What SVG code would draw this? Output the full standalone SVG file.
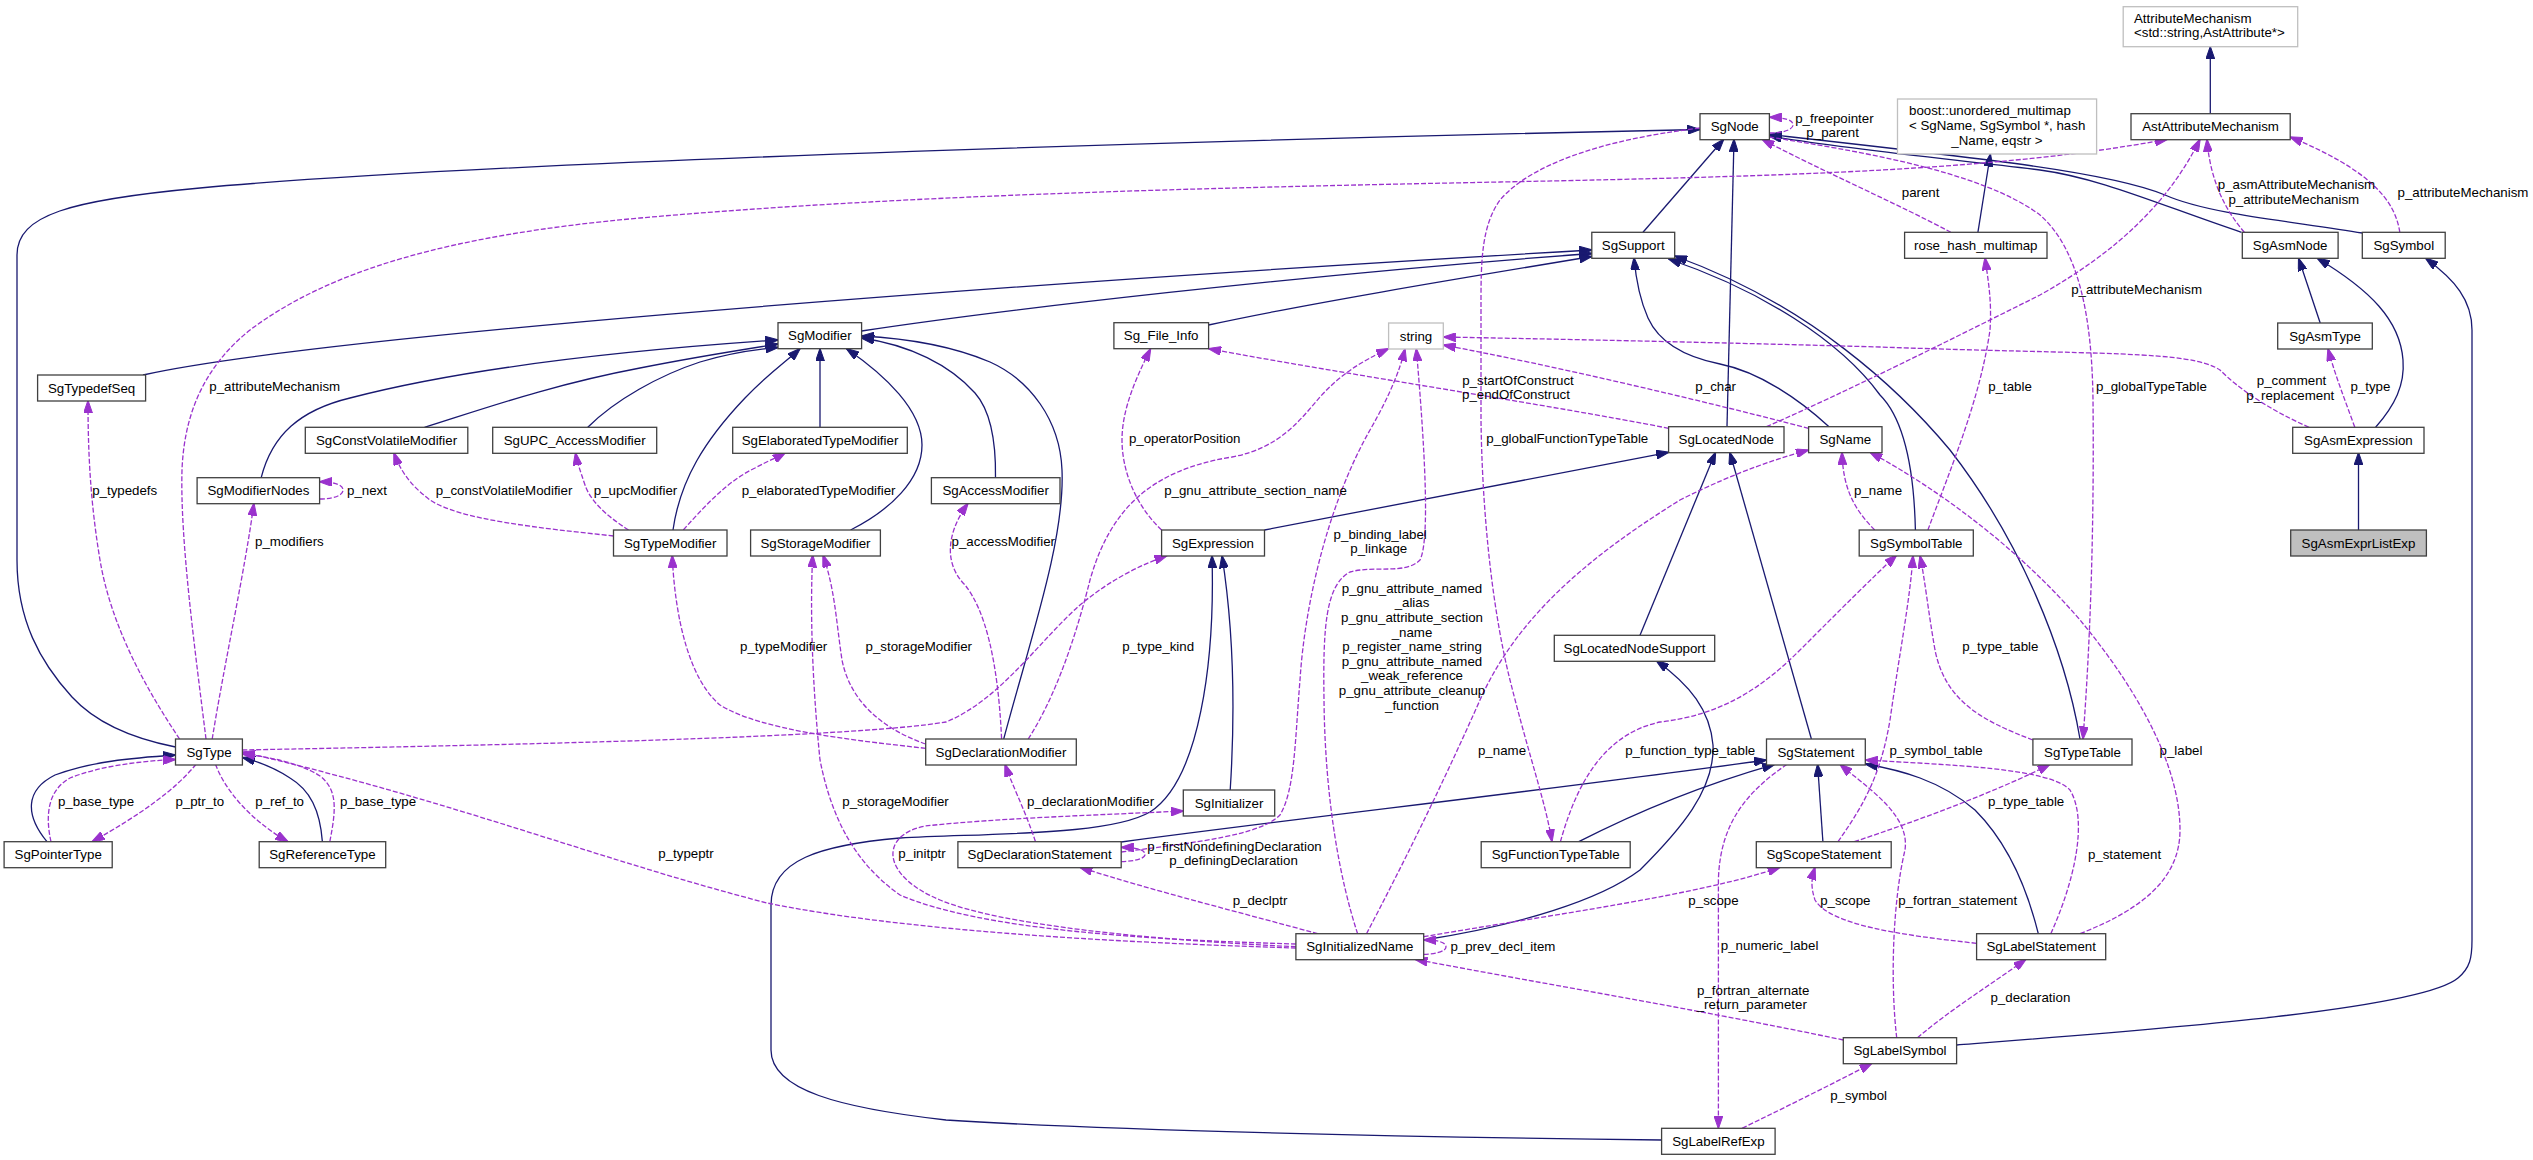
<svg xmlns="http://www.w3.org/2000/svg" width="2533" height="1160" viewBox="0 0 2533 1160">
<style>
text{font-family:"Liberation Sans",Arial,Helvetica,sans-serif;font-size:13.3px;fill:#000}
.n rect{fill:#fff;stroke:#404040;stroke-width:1.3}
.g rect{fill:#fff;stroke:#bfbfbf;stroke-width:1.3}
.f rect{fill:#bfbfbf}
.n text,.g text.c{text-anchor:middle}
.inh{fill:none;stroke:#191970;stroke-width:1.3;marker-end:url(#ah)}
.use{fill:none;stroke:#9a32cd;stroke-width:1.3;stroke-dasharray:5,2;marker-end:url(#ap)}
.lbl text{text-anchor:middle}
</style>
<defs>
<marker id="ah" viewBox="0 0 13 9" refX="12.5" refY="4.5" markerWidth="13" markerHeight="9" markerUnits="userSpaceOnUse" orient="auto"><path d="M0,0 L13,4.5 L0,9 z" fill="#191970" stroke="#191970" stroke-width="1"/></marker>
<marker id="ap" viewBox="0 0 13 9" refX="12.5" refY="4.5" markerWidth="13" markerHeight="9" markerUnits="userSpaceOnUse" orient="auto"><path d="M0,0 L13,4.5 L0,9 z" fill="#9a32cd" stroke="#9a32cd" stroke-width="1"/></marker>
</defs>
<rect width="2533" height="1160" fill="#fff"/>

<g id="connectors">
<path class="inh" d="M175.5,747 C130,738 95,722 72,697 C40,662 17,620 17,560 L17,255 C17,215 70,200 200,188 C500,160 1300,138 1700,129.5"/>
<path class="inh" d="M143,375 C300,340 900,290 1591.8,250"/>
<path class="inh" d="M861.6,331 C1000,310 1300,275 1591.8,253.5"/>
<path class="inh" d="M1208.6,325 C1300,305 1450,280 1591.8,256.5"/>
<path class="inh" d="M1643,232.3 L1723.7,139.3"/>
<path class="inh" d="M1727,426.7 L1734,139.3"/>
<path class="inh" d="M2241.5,232.3 C2160,205 2100,178 2040,170 C1960,160 1850,150 1769.4,136"/>
<path class="inh" d="M2362.3,233 C2300,222 2210,215 2165,195 C2110,172 1980,158 1769.4,134.5"/>
<path class="inh" d="M1977.9,232.3 L1990.4,154"/>
<path class="inh" d="M2210.3,113.7 L2210.3,46.7"/>
<path class="inh" d="M2320.2,323 L2298.6,258.3"/>
<path class="inh" d="M2375.6,427.3 C2395,405 2405,385 2403,360 C2400,320 2370,290 2317.3,258.3"/>
<path class="inh" d="M2358.5,530 L2358.5,452.7"/>
<path class="inh" d="M1956.6,1045 C2150,1030 2420,1010 2458,978 C2470,968 2472,958 2472,940 L2472,330 C2472,300 2455,280 2425.6,258.3"/>
<path class="inh" d="M261.2,477.7 C272,435 300,410 350,398 C450,372 600,352 778,340"/>
<path class="inh" d="M424.5,427.3 C480,410 550,385 640,368 C690,358 740,350 778,344"/>
<path class="inh" d="M587.8,427.3 C615,400 660,375 700,362 C730,353 760,349 778,347.5"/>
<path class="inh" d="M673,530 C680,480 705,440 745,398 C770,372 788,360 800,348.7"/>
<path class="inh" d="M820,427.3 L820,348.7"/>
<path class="inh" d="M850.6,530 C890,510 922,480 922,445 C922,410 885,375 846.5,348.7"/>
<path class="inh" d="M995.5,477.7 C996,440 990,410 975,393 C950,365 910,345 861.6,338"/>
<path class="inh" d="M1003.7,739 C1030,640 1065,540 1062,470 C1060,420 1030,380 990,362 C950,345 900,338 861.6,336"/>
<path class="inh" d="M1264.5,530 L1668.6,452.3"/>
<path class="inh" d="M1640,635.3 L1715.5,452.3"/>
<path class="inh" d="M1811.4,739 L1729.8,452.3"/>
<path class="inh" d="M1829,426.7 C1800,400 1760,372 1720,364 C1680,356 1658,340 1648,318 C1640,300 1636,280 1634,257.7"/>
<path class="inh" d="M1915.4,530 C1914,470 1905,420 1880,395 C1840,340 1760,290 1668.6,259"/>
<path class="inh" d="M2080,739 C2065,650 2020,540 1950,450 C1900,390 1810,305 1674.7,256"/>
<path class="inh" d="M1230.2,790 C1236,700 1232,620 1222,555.7"/>
<path class="inh" d="M1661.6,1140 C1400,1137 1100,1130 946,1120 C840,1108 771,1090 771,1050 L771,905 C771,860 820,845 900,838 C1000,833 1110,835 1150,812 C1200,780 1215,660 1212,555.7"/>
<path class="inh" d="M1121.2,842 C1300,818 1550,790 1766.5,760"/>
<path class="inh" d="M1578.8,841.7 C1650,805 1720,780 1774.7,764.3"/>
<path class="inh" d="M1822.9,841.7 L1817.6,764.3"/>
<path class="inh" d="M2038.3,933.7 C2025,880 2005,840 1975,810 C1940,780 1900,770 1865.3,764"/>
<path class="inh" d="M1423.7,940 C1520,925 1600,900 1640,870 C1680,830 1715,790 1713,745 C1710,710 1690,685 1656.3,660.7"/>
<path class="inh" d="M47,841.7 C25,815 25,790 55,775 C90,762 130,758 175.5,755"/>
<path class="inh" d="M322.4,841.7 C320,810 310,790 290,778 C275,768 260,762 242.4,757.5"/>

<path class="use" d="M206,739 C195,650 180,540 182,470 C184,420 200,370 250,330 C330,270 450,235 640,218 C900,195 1200,188 1500,182 C1800,176 2000,170 2167.4,139.3"/>
<path class="use" d="M179.6,739 C140,680 110,620 100,560 C90,500 88,450 88,400.7"/>
<path class="use" d="M212.2,739 C225,660 245,570 253.9,503.3"/>
<path class="use" d="M319.6,499 C335,499 343,495 343,490 C343,485 335,482 319.6,481.7"/>
<path class="use" d="M613.5,536 C540,528 460,520 430,500 C410,485 400,470 393.9,452.7"/>
<path class="use" d="M628.6,530 C605,515 590,500 585,485 C580,470 577,462 575.5,452.7"/>
<path class="use" d="M683.3,530 C710,500 730,480 755,468 C770,460 778,457 785.3,452.7"/>
<path class="use" d="M925.7,748.3 C850,740 760,730 720,705 C690,680 675,620 672.2,555.3"/>
<path class="use" d="M925.7,744 C880,728 850,700 842,660 C836,620 835,590 823,555"/>
<path class="use" d="M1295.9,944 C1150,940 980,930 900,895 C850,860 830,810 820,760 C812,680 810,610 812.7,555"/>
<path class="use" d="M1001.6,739 C998,660 985,610 965,585 C945,565 945,535 968,503.3"/>
<path class="use" d="M1028.2,739 C1060,690 1080,620 1090,580 C1110,510 1150,470 1232,457 C1280,448 1300,420 1320,397 C1340,375 1360,362 1388.6,348.7"/>
<path class="use" d="M1161.6,530 C1135,505 1122,470 1122,440 C1122,410 1135,380 1150.6,348.7"/>
<path class="use" d="M242.4,750 C500,745 850,738 946,722 C1000,700 1040,640 1080,605 C1110,580 1140,565 1167,555.7"/>
<path class="use" d="M1035.5,841.7 C1025,810 1012,785 1005,764.3"/>
<path class="use" d="M1295.9,946.7 C1150,940 1000,925 940,900 C880,875 880,835 925,826 C1000,818 1100,815 1183.3,811"/>
<path class="use" d="M1121.2,861.7 C1138,861 1145,858 1145,854.5 C1145,850 1138,847.5 1121.2,847.3"/>
<path class="use" d="M1317.6,933.7 C1250,915 1150,890 1080,867.3"/>
<path class="use" d="M1295.9,948 C1100,942 900,930 767,903 C600,860 450,800 242.4,752"/>
<path class="use" d="M196,764.3 C175,790 140,815 92,841.7"/>
<path class="use" d="M51,841.7 C45,815 48,790 70,778 C100,766 140,761 175.5,759.5"/>
<path class="use" d="M215.5,764.3 C225,790 250,820 288,841.7"/>
<path class="use" d="M329.8,841.7 C336,810 338,790 320,776 C300,763 270,757 242.4,754"/>
<path class="use" d="M1121.2,852 C1200,842 1260,835 1280,815 C1295,790 1295,740 1300,680 C1305,600 1330,500 1370,430 C1390,395 1400,370 1405,348.7"/>
<path class="use" d="M1357.6,933.7 C1340,880 1325,800 1324,700 C1323,630 1325,585 1350,572 C1375,565 1405,575 1420,560 C1430,540 1425,450 1416.3,348.7"/>
<path class="use" d="M1366.5,933.7 C1400,870 1440,790 1480,700 C1520,610 1600,550 1680,500 C1740,470 1780,458 1808.6,450"/>
<path class="use" d="M1808.6,428.3 C1700,400 1550,365 1443.3,345"/>
<path class="use" d="M1668.6,428.3 C1550,405 1350,375 1208.6,348.7"/>
<path class="use" d="M1700,128 C1600,140 1530,165 1500,200 C1482,225 1481,260 1481,300 L1481,420 C1482,500 1490,600 1510,680 C1530,760 1545,800 1552,841.7"/>
<path class="use" d="M1560.4,841.7 C1575,790 1600,735 1660,722 C1720,715 1760,690 1800,650 C1840,610 1870,580 1896.7,555"/>
<path class="use" d="M1927.9,530 C1950,470 1980,400 1990,330 C1992,300 1988,280 1985,257.7"/>
<path class="use" d="M1950.8,232.3 C1900,205 1820,170 1762,139.3"/>
<path class="use" d="M1769.4,137 C1850,150 1980,170 2040,215 C2080,250 2092,320 2093,400 C2094,500 2092,620 2083,739"/>
<path class="use" d="M1766.5,426.7 C1850,390 1950,340 2040,295 C2120,250 2170,200 2200,139.3"/>
<path class="use" d="M2244.4,232.3 C2225,210 2210,180 2207,139.3"/>
<path class="use" d="M2399.8,232.3 C2395,200 2370,170 2290.2,137"/>
<path class="use" d="M2309,427.3 C2270,410 2240,390 2220,370 C2190,350 2100,355 1880,347 C1700,342 1550,339 1443.3,337"/>
<path class="use" d="M2354.8,427.3 C2345,400 2335,375 2328,348.7"/>
<path class="use" d="M1874.7,530 C1855,510 1843,490 1842,452.3"/>
<path class="use" d="M2080,933.7 C2140,910 2180,880 2180,830 C2180,760 2130,680 2080,620 C2020,550 1940,490 1870,452.3"/>
<path class="use" d="M1838,841.7 C1860,810 1880,780 1890,720 C1900,650 1910,600 1913,555.7"/>
<path class="use" d="M2032.9,740 C1980,720 1945,700 1935,650 C1928,610 1925,580 1920,555.7"/>
<path class="use" d="M1854.3,841.7 C1920,820 2000,790 2050,764.3"/>
<path class="use" d="M2050.8,933.7 C2075,880 2088,820 2070,790 C2050,768 1950,765 1865.3,760"/>
<path class="use" d="M1896.7,1037.7 C1890,980 1893,900 1905,850 C1910,815 1870,790 1840,764.3"/>
<path class="use" d="M1976.6,943.3 C1900,935 1830,925 1815,900 C1810,885 1812,877 1815,867.3"/>
<path class="use" d="M1423.7,936.7 C1550,915 1700,895 1780,867.3"/>
<path class="use" d="M1423.7,954.3 C1440,954 1446,950 1446,947 C1446,943 1440,940 1423.7,940"/>
<path class="use" d="M1787,764.3 C1750,790 1720,820 1718.4,880 L1718.4,1128.3"/>
<path class="use" d="M1843.3,1040 C1700,1010 1550,985 1415,959.3"/>
<path class="use" d="M1917.5,1037.7 C1950,1010 1990,985 2026,959.3"/>
<path class="use" d="M1742,1128.3 C1790,1105 1830,1085 1872,1063.3"/>
<path class="use" d="M1769.4,133 C1785,133 1793,129 1793,125 C1793,120 1785,117.5 1769.4,117.3"/>

<g class="lbl">
<text x="274.7" y="391.2">p_attributeMechanism</text>
<text x="124.7" y="494.5">p_typedefs</text>
<text x="289.4" y="546.2">p_modifiers</text>
<text x="367" y="494.5">p_next</text>
<text x="504" y="494.5">p_constVolatileModifier</text>
<text x="635.5" y="494.5">p_upcModifier</text>
<text x="818.6" y="494.5">p_elaboratedTypeModifier</text>
<text x="1003.3" y="546.2">p_accessModifier</text>
<text x="783.7" y="651.2">p_typeModifier</text>
<text x="918.8" y="651.2">p_storageModifier</text>
<text x="1158.2" y="651.2">p_type_kind</text>
<text x="1184.7" y="442.8">p_operatorPosition</text>
<text x="1255.5" y="494.5">p_gnu_attribute_section_name</text>
<text x="895.5" y="806.2">p_storageModifier</text>
<text x="1090.6" y="806.2">p_declarationModifier</text>
<text x="922" y="857.8">p_initptr</text>
<text x="686" y="857.8">p_typeptr</text>
<text x="1234.5" y="851.2">p_firstNondefiningDeclaration</text>
<text x="1233.5" y="864.5">p_definingDeclaration</text>
<text x="1260" y="904.5">p_declptr</text>
<text x="1380.2" y="538.8">p_binding_label</text>
<text x="1378.8" y="552.8">p_linkage</text>
<text x="1412" y="592.8">p_gnu_attribute_named</text>
<text x="1412" y="607.4">_alias</text>
<text x="1412" y="622">p_gnu_attribute_section</text>
<text x="1412" y="636.6">_name</text>
<text x="1412" y="651.2">p_register_name_string</text>
<text x="1412" y="665.8">p_gnu_attribute_named</text>
<text x="1412" y="680.4">_weak_reference</text>
<text x="1412" y="695">p_gnu_attribute_cleanup</text>
<text x="1412" y="709.6">_function</text>
<text x="1518" y="384.5">p_startOfConstruct</text>
<text x="1516" y="399.2">p_endOfConstruct</text>
<text x="1715.7" y="391.2">p_char</text>
<text x="1567.3" y="442.8">p_globalFunctionTypeTable</text>
<text x="1502" y="754.5">p_name</text>
<text x="1690.2" y="754.5">p_function_type_table</text>
<text x="1878" y="494.5">p_name</text>
<text x="2010" y="391.2">p_table</text>
<text x="1920.6" y="197.2">parent</text>
<text x="2151.4" y="391.2">p_globalTypeTable</text>
<text x="2136.6" y="293.8">p_attributeMechanism</text>
<text x="2296.5" y="188.8">p_asmAttributeMechanism</text>
<text x="2293.8" y="203.8">p_attributeMechanism</text>
<text x="2463" y="197.2">p_attributeMechanism</text>
<text x="2291.5" y="384.5">p_comment</text>
<text x="2290.3" y="399.5">p_replacement</text>
<text x="2370.4" y="391.2">p_type</text>
<text x="1834.4" y="122.8">p_freepointer</text>
<text x="1832.6" y="137.2">p_parent</text>
<text x="2000.4" y="651.2">p_type_table</text>
<text x="1936" y="754.5">p_symbol_table</text>
<text x="2181" y="754.5">p_label</text>
<text x="2026.2" y="806.2">p_type_table</text>
<text x="2124.5" y="858.5">p_statement</text>
<text x="1957.7" y="905.2">p_fortran_statement</text>
<text x="1845.3" y="905.2">p_scope</text>
<text x="1713.5" y="905.2">p_scope</text>
<text x="1502.9" y="951.2">p_prev_decl_item</text>
<text x="1769.6" y="950.2">p_numeric_label</text>
<text x="1753.2" y="995.2">p_fortran_alternate</text>
<text x="1751.8" y="1009.2">_return_parameter</text>
<text x="2030.4" y="1002.2">p_declaration</text>
<text x="1858.6" y="1099.5">p_symbol</text>
<text x="96" y="806.2">p_base_type</text>
<text x="199.8" y="806.2">p_ptr_to</text>
<text x="279.6" y="806.2">p_ref_to</text>
<text x="378" y="806.2">p_base_type</text>
</g>
</g>

<g id="n-SgTypedefSeq" class="n"><rect x="37.6" y="375" width="108" height="26"/><text x="91.6" y="392.5">SgTypedefSeq</text></g>
<g id="n-SgModifier" class="n"><rect x="778" y="322.7" width="83.6" height="26"/><text x="819.8" y="340.2">SgModifier</text></g>
<g id="n-Sg_File_Info" class="n"><rect x="1113.9" y="322.7" width="94.7" height="26"/><text x="1161.2" y="340.2">Sg_File_Info</text></g>
<g id="n-SgNode" class="n"><rect x="1700" y="113.7" width="69.4" height="26"/><text x="1734.7" y="131.2">SgNode</text></g>
<g id="n-SgSupport" class="n"><rect x="1591.8" y="232.3" width="82.9" height="26"/><text x="1633.2" y="249.8">SgSupport</text></g>
<g id="n-string" class="g"><rect x="1388.6" y="323" width="54.7" height="26"/><text class="c" x="1416" y="340.5">string</text></g>
<g id="n-AttributeMechanism" class="g"><rect x="2123.2" y="6.7" width="174.5" height="40"/><text x="2134" y="23">AttributeMechanism</text><text x="2134" y="37.3">&lt;std::string,AstAttribute*&gt;</text></g>
<g id="n-AstAttributeMechanism" class="n"><rect x="2131" y="113.7" width="159.2" height="26"/><text x="2210.6" y="131.2">AstAttributeMechanism</text></g>
<g id="n-boost_unordered_multimap" class="g"><rect x="1897.5" y="99" width="199.1" height="55"/><text x="1909" y="114.5">boost::unordered_multimap</text><text x="1909" y="129.8">&lt; SgName, SgSymbol *, hash</text><text class="c" x="1997" y="145.2">_Name, eqstr &gt;</text></g>
<g id="n-rose_hash_multimap" class="n"><rect x="1904.6" y="232.3" width="142.4" height="26"/><text x="1975.8" y="249.8">rose_hash_multimap</text></g>
<g id="n-SgAsmNode" class="n"><rect x="2242.3" y="232.3" width="95.8" height="26"/><text x="2290.2" y="249.8">SgAsmNode</text></g>
<g id="n-SgSymbol" class="n"><rect x="2362.3" y="232.3" width="82.9" height="26"/><text x="2403.8" y="249.8">SgSymbol</text></g>
<g id="n-SgAsmType" class="n"><rect x="2277.7" y="323" width="94.6" height="26"/><text x="2325" y="340.5">SgAsmType</text></g>
<g id="n-SgAsmExpression" class="n"><rect x="2292.7" y="427.3" width="131.3" height="26"/><text x="2358.4" y="444.8">SgAsmExpression</text></g>
<g id="n-SgAsmExprListExp" class="n f"><rect x="2290.7" y="530" width="135.7" height="26"/><text x="2358.5" y="547.5">SgAsmExprListExp</text></g>
<g id="n-SgConstVolatileModifier" class="n"><rect x="305.3" y="427.3" width="162.5" height="26"/><text x="386.5" y="444.8">SgConstVolatileModifier</text></g>
<g id="n-SgUPC_AccessModifier" class="n"><rect x="492.7" y="427.3" width="164" height="26"/><text x="574.7" y="444.8">SgUPC_AccessModifier</text></g>
<g id="n-SgModifierNodes" class="n"><rect x="197.1" y="477.7" width="122.5" height="26"/><text x="258.4" y="495.2">SgModifierNodes</text></g>
<g id="n-SgTypeModifier" class="n"><rect x="613.5" y="530" width="113.5" height="26"/><text x="670.2" y="547.5">SgTypeModifier</text></g>
<g id="n-SgElaboratedTypeModifier" class="n"><rect x="732.7" y="427.3" width="174.6" height="26"/><text x="820" y="444.8">SgElaboratedTypeModifier</text></g>
<g id="n-SgStorageModifier" class="n"><rect x="750.6" y="530" width="129.8" height="26"/><text x="815.5" y="547.5">SgStorageModifier</text></g>
<g id="n-SgAccessModifier" class="n"><rect x="931.4" y="477.7" width="128.6" height="26"/><text x="995.7" y="495.2">SgAccessModifier</text></g>
<g id="n-SgExpression" class="n"><rect x="1161.6" y="530" width="102.9" height="26"/><text x="1213" y="547.5">SgExpression</text></g>
<g id="n-SgDeclarationModifier" class="n"><rect x="925.7" y="739" width="150.6" height="26"/><text x="1001" y="756.5">SgDeclarationModifier</text></g>
<g id="n-SgLocatedNode" class="n"><rect x="1668.6" y="426.7" width="115.4" height="26"/><text x="1726.3" y="444.2">SgLocatedNode</text></g>
<g id="n-SgName" class="n"><rect x="1808.6" y="426.7" width="73.4" height="26"/><text x="1845.3" y="444.2">SgName</text></g>
<g id="n-SgSymbolTable" class="n"><rect x="1859.2" y="530" width="114.1" height="26"/><text x="1916.3" y="547.5">SgSymbolTable</text></g>
<g id="n-SgLocatedNodeSupport" class="n"><rect x="1554.3" y="635.3" width="160.4" height="26"/><text x="1634.5" y="652.8">SgLocatedNodeSupport</text></g>
<g id="n-SgStatement" class="n"><rect x="1766.5" y="739" width="98.8" height="26"/><text x="1815.9" y="756.5">SgStatement</text></g>
<g id="n-SgTypeTable" class="n"><rect x="2032.9" y="739" width="99.1" height="26"/><text x="2082.5" y="756.5">SgTypeTable</text></g>
<g id="n-SgType" class="n"><rect x="175.5" y="739" width="66.9" height="26"/><text x="209" y="756.5">SgType</text></g>
<g id="n-SgPointerType" class="n"><rect x="4.1" y="841.7" width="108.1" height="26"/><text x="58.2" y="859.2">SgPointerType</text></g>
<g id="n-SgReferenceType" class="n"><rect x="259.2" y="841.7" width="126.5" height="26"/><text x="322.4" y="859.2">SgReferenceType</text></g>
<g id="n-SgInitializer" class="n"><rect x="1183.3" y="790" width="91.4" height="26"/><text x="1229" y="807.5">SgInitializer</text></g>
<g id="n-SgDeclarationStatement" class="n"><rect x="957.9" y="841.7" width="163.3" height="26"/><text x="1039.6" y="859.2">SgDeclarationStatement</text></g>
<g id="n-SgFunctionTypeTable" class="n"><rect x="1481.2" y="841.7" width="149" height="26"/><text x="1555.7" y="859.2">SgFunctionTypeTable</text></g>
<g id="n-SgScopeStatement" class="n"><rect x="1756.3" y="841.7" width="134.9" height="26"/><text x="1823.8" y="859.2">SgScopeStatement</text></g>
<g id="n-SgInitializedName" class="n"><rect x="1295.9" y="933.7" width="127.8" height="26"/><text x="1359.8" y="951.2">SgInitializedName</text></g>
<g id="n-SgLabelStatement" class="n"><rect x="1976.6" y="933.7" width="129.1" height="26"/><text x="2041.2" y="951.2">SgLabelStatement</text></g>
<g id="n-SgLabelSymbol" class="n"><rect x="1843.3" y="1037.7" width="113.3" height="26"/><text x="1900" y="1055.2">SgLabelSymbol</text></g>
<g id="n-SgLabelRefExp" class="n"><rect x="1661.6" y="1128.3" width="113.5" height="26"/><text x="1718.4" y="1145.8">SgLabelRefExp</text></g>
</svg>
